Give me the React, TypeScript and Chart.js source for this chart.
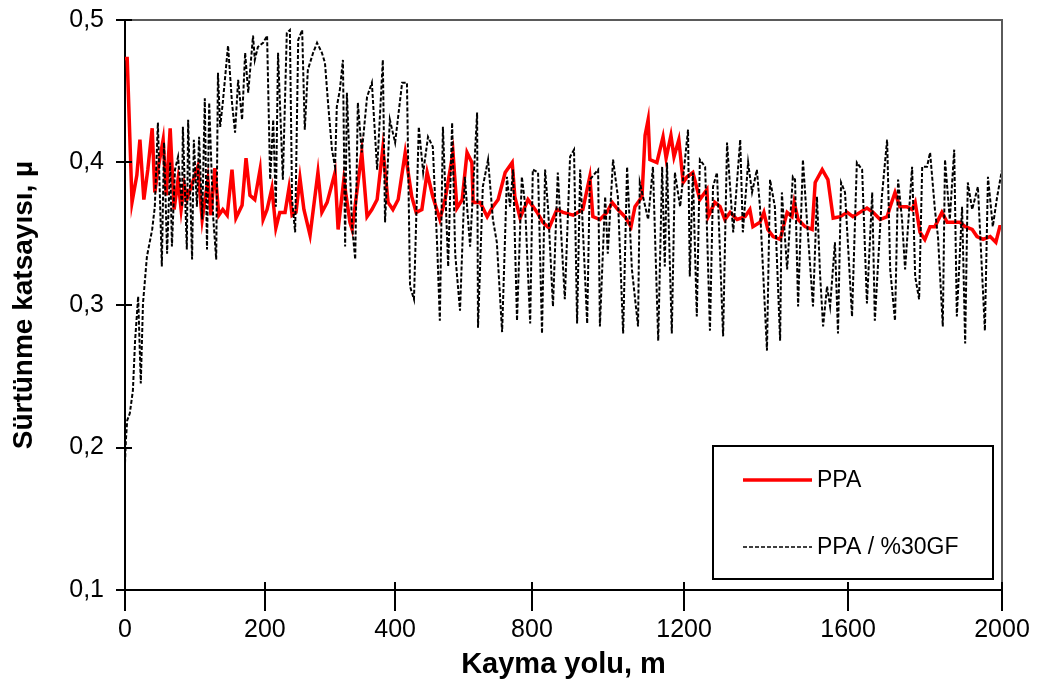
import React, { useEffect, useRef } from "react";
import { Chart, registerables } from "chart.js";

Chart.register(...registerables);

const FONT = "'Liberation Sans', Arial, sans-serif";

// x axis: tick values (plot distance units) and their printed labels
const X_TICK_VALUES = [0, 319, 616, 928, 1275, 1649, 2000];
const X_TICK_LABELS = ["0", "200", "400", "800", "1200", "1600", "2000"];
const Y_MIN = 0.1;
const Y_MAX = 0.5;
const Y_STEP = 0.1;

const X_TITLE = "Kayma yolu, m";
const Y_TITLE = "Sürtünme katsayısı, µ";
const SERIES_LABELS = ["PPA", "PPA / %30GF"];

// PPA: [distance, friction coefficient]
const PPA: [number, number][] = [
  [0, 0.473], [5, 0.473], [16, 0.372], [27, 0.391], [34, 0.416], [43, 0.374], [52, 0.395], [62, 0.424],
  [68, 0.379], [75, 0.395], [87, 0.416], [94, 0.377], [103, 0.424], [112, 0.367], [121, 0.388], [128, 0.367],
  [135, 0.384], [141, 0.374], [166, 0.397], [176, 0.36], [189, 0.388], [196, 0.363], [205, 0.396], [214, 0.363],
  [223, 0.367], [233, 0.363], [244, 0.395], [253, 0.361], [267, 0.37], [276, 0.403], [285, 0.377], [296, 0.374],
  [308, 0.395], [315, 0.36], [324, 0.367], [335, 0.382], [344, 0.354], [353, 0.365], [365, 0.365], [374, 0.382],
  [381, 0.363], [390, 0.365], [399, 0.389], [408, 0.367], [422, 0.349], [440, 0.393], [449, 0.365], [461, 0.372],
  [479, 0.393], [486, 0.353], [499, 0.388], [513, 0.358], [518, 0.353], [540, 0.407], [552, 0.362], [563, 0.367],
  [575, 0.374], [588, 0.41], [600, 0.372], [611, 0.367], [623, 0.374], [639, 0.407], [654, 0.376], [664, 0.365],
  [677, 0.367], [689, 0.393], [702, 0.376], [718, 0.36], [730, 0.374], [748, 0.407], [757, 0.368], [769, 0.374],
  [780, 0.407], [791, 0.4], [794, 0.372], [810, 0.372], [826, 0.362], [839, 0.369], [851, 0.374], [867, 0.393],
  [883, 0.4], [889, 0.376], [901, 0.361], [919, 0.374], [940, 0.365], [953, 0.358], [967, 0.354], [985, 0.367],
  [999, 0.365], [1022, 0.363], [1044, 0.367], [1060, 0.39], [1067, 0.362], [1083, 0.36], [1099, 0.365], [1111, 0.372],
  [1124, 0.367], [1140, 0.362], [1154, 0.355], [1163, 0.369], [1179, 0.376], [1186, 0.419], [1193, 0.43], [1197, 0.402],
  [1213, 0.4], [1227, 0.418], [1234, 0.403], [1245, 0.419], [1252, 0.404], [1263, 0.416], [1273, 0.386], [1282, 0.39],
  [1295, 0.393], [1311, 0.374], [1327, 0.381], [1330, 0.362], [1345, 0.372], [1357, 0.369], [1368, 0.36], [1380, 0.365],
  [1396, 0.36], [1414, 0.362], [1425, 0.367], [1432, 0.355], [1448, 0.358], [1457, 0.365], [1466, 0.353], [1478, 0.348],
  [1494, 0.346], [1510, 0.365], [1521, 0.362], [1526, 0.372], [1535, 0.36], [1551, 0.355], [1567, 0.353], [1574, 0.386],
  [1590, 0.395], [1603, 0.388], [1615, 0.361], [1631, 0.362], [1647, 0.365], [1660, 0.362], [1676, 0.365], [1692, 0.368],
  [1706, 0.365], [1722, 0.36], [1738, 0.362], [1745, 0.369], [1756, 0.379], [1767, 0.369], [1783, 0.369], [1795, 0.367],
  [1802, 0.372], [1813, 0.351], [1824, 0.346], [1836, 0.355], [1847, 0.355], [1863, 0.365], [1875, 0.358], [1888, 0.358],
  [1904, 0.358], [1916, 0.355], [1932, 0.353], [1943, 0.348], [1957, 0.346], [1973, 0.348], [1986, 0.344], [1995, 0.355],
  [2000, 0.355],
];

// PPA / %30GF: [distance, friction coefficient]
const PPA_GF: [number, number][] = [
  [0, 0.189], [2, 0.205], [5, 0.219], [11, 0.224], [18, 0.24], [23, 0.275], [30, 0.306], [36, 0.245],
  [41, 0.301], [50, 0.334], [62, 0.353], [68, 0.369], [75, 0.428], [84, 0.327], [89, 0.414], [96, 0.336],
  [103, 0.4], [107, 0.341], [114, 0.395], [121, 0.404], [130, 0.369], [132, 0.425], [141, 0.339], [144, 0.43],
  [153, 0.332], [157, 0.416], [164, 0.369], [169, 0.418], [176, 0.36], [182, 0.445], [187, 0.339], [192, 0.442],
  [201, 0.362], [208, 0.332], [212, 0.463], [217, 0.425], [223, 0.442], [235, 0.482], [244, 0.442], [251, 0.421],
  [258, 0.458], [267, 0.43], [274, 0.477], [281, 0.449], [292, 0.489], [296, 0.472], [303, 0.481], [315, 0.484],
  [324, 0.489], [331, 0.388], [338, 0.43], [344, 0.369], [349, 0.477], [360, 0.388], [369, 0.491], [376, 0.493],
  [381, 0.374], [388, 0.351], [395, 0.486], [404, 0.493], [410, 0.423], [417, 0.465], [429, 0.477], [438, 0.484],
  [449, 0.477], [456, 0.47], [463, 0.442], [472, 0.409], [479, 0.397], [483, 0.439], [490, 0.451], [497, 0.472],
  [502, 0.341], [506, 0.449], [518, 0.355], [525, 0.332], [531, 0.442], [540, 0.407], [552, 0.446], [563, 0.456],
  [575, 0.395], [588, 0.472], [593, 0.358], [604, 0.43], [616, 0.414], [632, 0.456], [643, 0.456], [650, 0.313],
  [659, 0.304], [670, 0.425], [680, 0.393], [691, 0.418], [702, 0.411], [712, 0.341], [718, 0.289], [725, 0.425],
  [737, 0.327], [746, 0.428], [753, 0.336], [764, 0.296], [775, 0.39], [787, 0.341], [803, 0.435], [805, 0.284],
  [816, 0.383], [828, 0.402], [839, 0.36], [848, 0.344], [860, 0.281], [871, 0.39], [878, 0.369], [885, 0.395],
  [894, 0.289], [905, 0.39], [912, 0.372], [924, 0.287], [930, 0.395], [942, 0.393], [951, 0.28], [958, 0.395],
  [965, 0.367], [976, 0.299], [987, 0.393], [1003, 0.304], [1015, 0.404], [1024, 0.409], [1031, 0.287], [1038, 0.395],
  [1054, 0.287], [1060, 0.388], [1079, 0.395], [1083, 0.285], [1095, 0.376], [1101, 0.336], [1113, 0.402], [1124, 0.376],
  [1136, 0.28], [1145, 0.397], [1156, 0.325], [1170, 0.285], [1174, 0.386], [1193, 0.36], [1204, 0.397], [1216, 0.275],
  [1225, 0.397], [1231, 0.327], [1236, 0.4], [1247, 0.28], [1254, 0.393], [1266, 0.369], [1284, 0.423], [1288, 0.32],
  [1295, 0.393], [1304, 0.292], [1311, 0.402], [1323, 0.397], [1334, 0.282], [1341, 0.383], [1350, 0.393], [1364, 0.278],
  [1373, 0.414], [1387, 0.351], [1403, 0.416], [1409, 0.351], [1421, 0.4], [1430, 0.379], [1441, 0.395], [1448, 0.369],
  [1464, 0.268], [1471, 0.388], [1482, 0.369], [1494, 0.275], [1498, 0.379], [1510, 0.325], [1523, 0.39], [1528, 0.388],
  [1535, 0.299], [1546, 0.402], [1555, 0.36], [1569, 0.299], [1578, 0.376], [1585, 0.322], [1592, 0.285], [1601, 0.313],
  [1608, 0.299], [1619, 0.344], [1626, 0.28], [1633, 0.386], [1642, 0.379], [1658, 0.292], [1669, 0.4], [1681, 0.395],
  [1692, 0.301], [1704, 0.379], [1710, 0.289], [1726, 0.376], [1738, 0.416], [1745, 0.325], [1756, 0.289], [1763, 0.388],
  [1772, 0.36], [1779, 0.325], [1795, 0.397], [1802, 0.32], [1811, 0.304], [1818, 0.397], [1829, 0.397], [1836, 0.407],
  [1847, 0.367], [1854, 0.348], [1865, 0.285], [1870, 0.402], [1881, 0.36], [1891, 0.409], [1897, 0.292], [1909, 0.369],
  [1916, 0.273], [1922, 0.386], [1932, 0.367], [1945, 0.383], [1961, 0.282], [1968, 0.39], [1979, 0.355], [1989, 0.376],
  [2000, 0.395],
];

const framePlugin = {
  id: "frame",
  afterDraw(chart: any) {
    const { ctx, chartArea: a, scales } = chart;
    ctx.save();
    // top and right frame
    ctx.strokeStyle = "#5a5a5a";
    ctx.lineWidth = 2;
    ctx.beginPath();
    ctx.moveTo(a.left, a.top);
    ctx.lineTo(a.right, a.top);
    ctx.lineTo(a.right, a.bottom);
    ctx.stroke();
    // inner tick marks
    ctx.strokeStyle = "#000";
    ctx.lineWidth = 2;
    ctx.beginPath();
    scales.x.ticks.forEach((t: any) => {
      const px = Math.round(scales.x.getPixelForValue(t.value));
      ctx.moveTo(px, a.bottom);
      ctx.lineTo(px, a.bottom - 8);
    });
    scales.y.ticks.forEach((t: any) => {
      const py = Math.round(scales.y.getPixelForValue(t.value));
      ctx.moveTo(a.left, py);
      ctx.lineTo(a.left + 7, py);
    });
    ctx.stroke();

    // legend box
    const bw = 280;
    const bh = 133;
    const bx = a.right - 9 - bw;
    const by = a.bottom - 11 - bh;
    ctx.fillStyle = "#fff";
    ctx.fillRect(bx, by, bw, bh);
    ctx.strokeStyle = "#000";
    ctx.lineWidth = 2;
    ctx.strokeRect(bx, by, bw, bh);
    const rows = [by + 34, by + 101];
    ctx.font = `23px ${FONT}`;
    ctx.textBaseline = "middle";
    ctx.textAlign = "left";
    chart.data.datasets.forEach((ds: any, i: number) => {
      const y = rows[i];
      ctx.save();
      ctx.strokeStyle = ds.borderColor;
      ctx.lineWidth = i === 0 ? ds.borderWidth : 1.5;
      ctx.setLineDash(ds.borderDash || []);
      ctx.beginPath();
      ctx.moveTo(bx + 30, y);
      ctx.lineTo(bx + 99, y);
      ctx.stroke();
      ctx.restore();
      ctx.fillStyle = "#000";
      ctx.fillText(ds.label, bx + 104, y + 1);
    });
    ctx.restore();
  },
};

export default function App() {
  const ref = useRef<HTMLCanvasElement | null>(null);

  useEffect(() => {
    if (!ref.current) return;
    const chart = new Chart(ref.current, {
      type: "line",
      data: {
        datasets: [
          {
            label: SERIES_LABELS[0],
            data: PPA.map(([x, y]) => ({ x, y })),
            borderColor: "#ff0000",
            borderWidth: 3.5,
            pointRadius: 0,
            tension: 0,
            order: 1,
          },
          {
            label: SERIES_LABELS[1],
            data: PPA_GF.map(([x, y]) => ({ x, y })),
            borderColor: "#000000",
            borderWidth: 2,
            borderDash: [4, 2],
            pointRadius: 0,
            tension: 0,
            order: 0,
          },
        ],
      },
      options: {
        animation: false,
        responsive: true,
        maintainAspectRatio: false,
        layout: { padding: { top: 20, right: 36, left: 0, bottom: 0 } },
        plugins: { legend: { display: false }, tooltip: { enabled: false } },
        scales: {
          x: {
            type: "linear",
            min: 0,
            max: 2000,
            afterBuildTicks: (s: any) => {
              s.ticks = X_TICK_VALUES.map((v) => ({ value: v }));
            },
            afterFit: (s: any) => {
              s.height = 101;
              s.paddingLeft = 0;
              s.paddingRight = 0;
            },
            ticks: {
              autoSkip: false,
              maxRotation: 0,
              padding: 4,
              color: "#000",
              font: { family: FONT, size: 25 },
              callback: (v: any) => X_TICK_LABELS[X_TICK_VALUES.indexOf(Number(v))],
            },
            grid: { drawOnChartArea: false, drawTicks: true, tickLength: 21, color: "#000", lineWidth: 2 },
            border: { display: true, color: "#000", width: 2 },
            title: {
              display: true,
              text: X_TITLE,
              color: "#000",
              font: { family: FONT, size: 29, weight: "bold" },
              padding: { top: 0, bottom: 9 },
            },
          },
          y: {
            type: "linear",
            min: Y_MIN,
            max: Y_MAX,
            afterFit: (s: any) => {
              s.width = 125;
              s.paddingTop = 0;
              s.paddingBottom = 0;
            },
            ticks: {
              stepSize: Y_STEP,
              padding: 12,
              color: "#000",
              font: { family: FONT, size: 25 },
              callback: (v: any) => Number(v).toFixed(1).replace(".", ","),
            },
            grid: { drawOnChartArea: false, drawTicks: true, tickLength: 9, color: "#000", lineWidth: 2 },
            border: { display: true, color: "#000", width: 2 },
            title: {
              display: true,
              text: Y_TITLE,
              color: "#000",
              font: { family: FONT, size: 28, weight: "bold" },
              padding: { top: 7, bottom: 0 },
            },
          },
        },
      },
      plugins: [framePlugin],
    });
    return () => chart.destroy();
  }, []);

  return (
    <div style={{ position: "fixed", left: 0, top: 0, width: 1038, height: 691, background: "#fff" }}>
      <canvas ref={ref} />
    </div>
  );
}
